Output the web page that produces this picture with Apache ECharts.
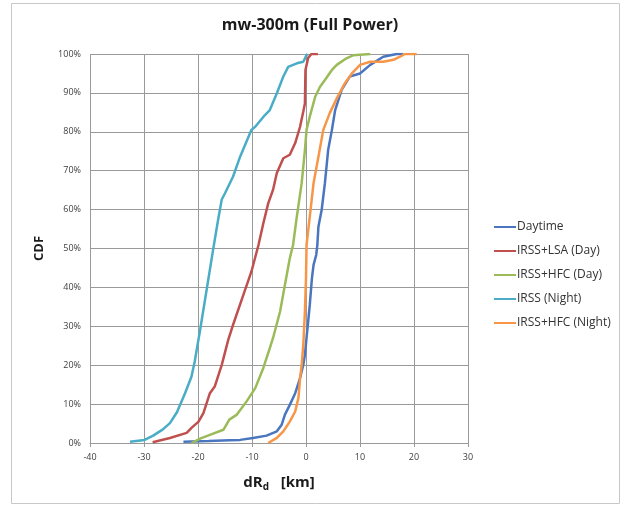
<!DOCTYPE html>
<html>
<head>
<meta charset="utf-8">
<script src="https://cdn.jsdelivr.net/npm/echarts@6/dist/echarts.min.js"></script>
<style>
  html, body { margin: 0; padding: 0; background: #ffffff; }
  #chart { width: 629px; height: 506px; }
</style>
</head>
<body>
<div id="chart"></div>
<script>
// Empirical CDF curves: [dRd in km, cumulative percent]
const seriesNames = ['Daytime', 'IRSS+LSA (Day)', 'IRSS+HFC (Day)', 'IRSS (Night)', 'IRSS+HFC (Night)'];
const seriesColors = ['#4a76bf', '#c0504d', '#9bbb59', '#4bacc6', '#f79646'];

const daytime = [
  [-22.7, 0.3], [-18, 0.5], [-14.1, 0.7], [-12.2, 0.8], [-9.8, 1.3], [-7.3, 1.9],
  [-5.4, 3], [-4.5, 4.7], [-3.9, 7.3], [-3, 9.8], [-2, 12.8], [-1.1, 16.7],
  [-0.5, 20.1], [-0.2, 22.7], [0.1, 27], [0.4, 31.2], [0.7, 35.5], [1.1, 42.4],
  [1.4, 45.8], [1.9, 48.4], [2.1, 50.9], [2.3, 55.6], [2.9, 59.9], [3.5, 66.8],
  [4.1, 75.3], [4.8, 80.5], [5.4, 85.6], [6.6, 90.8], [8.1, 94.2], [10, 95],
  [11.9, 97.2], [14.3, 99.3], [16.8, 100], [18, 100]
];

const irssLsaDay = [
  [-28.4, 0.2], [-25.2, 1.3], [-22.1, 2.6], [-21.2, 3.9], [-19.9, 5.5], [-19, 7.7],
  [-17.8, 12.8], [-16.9, 14.5], [-15.6, 20.1], [-14.4, 26.5], [-13.5, 30.4],
  [-11.6, 38.1], [-10.1, 44.1], [-8.8, 50.9], [-7.9, 56.5], [-7, 61.6], [-6.1, 65.1],
  [-5.4, 69.4], [-4.2, 73.2], [-3, 74.1], [-2, 77.1], [-1.1, 81.3], [-0.5, 85.2],
  [-0.2, 87.3], [-0.1, 95.9], [0.4, 99], [1, 100], [2.2, 100]
];

const irssHfcDay = [
  [-21.2, 0], [-19.5, 1.2], [-17.8, 2.1], [-15.3, 3.4], [-14.2, 6], [-12.8, 7.3],
  [-11, 10.7], [-9.4, 14.1], [-7.9, 19.3], [-6.7, 24.4], [-6.1, 27], [-4.8, 33.8],
  [-3.9, 40.7], [-3, 47.5], [-2.4, 50.9], [-1.7, 58.2], [-0.8, 66.8], [-0.2, 75.3],
  [0.1, 80.5], [0.7, 83.9], [1.7, 89], [2.6, 91.6], [3.5, 93.3], [4.8, 95.9],
  [5.7, 97.2], [7.5, 98.9], [8.8, 99.7], [11.9, 100]
];

const irssNight = [
  [-32.6, 0.3], [-29.9, 0.8], [-28.3, 1.9], [-26.5, 3.5], [-25.2, 5.1], [-23.9, 7.9],
  [-22.4, 12.8], [-21.2, 17.1], [-20.6, 21], [-19.6, 29.1], [-18.4, 39.4],
  [-17.2, 49.7], [-16.3, 57.2], [-15.6, 62.6], [-15, 64.2], [-13.5, 68.5], [-12.2, 73.6],
  [-10.1, 80.5], [-9.4, 81.3], [-7.6, 84.3], [-6.7, 85.6], [-5.4, 89.9], [-4.2, 94.2],
  [-3.3, 96.7], [-1.7, 97.6], [-0.5, 98], [0.1, 99.7], [0.3, 100]
];

const irssHfcNight = [
  [-7, 0], [-5.4, 1.3], [-4.2, 3], [-3, 5.5], [-2, 8.1], [-1.4, 11.6], [-1.1, 16.7],
  [-0.8, 20.1], [-0.5, 25.2], [-0.2, 33.8], [0, 42.4], [0.1, 50.9], [0.7, 58.2],
  [1.4, 66.8], [2.3, 73.6], [3.2, 80.5], [4.4, 84.8], [5.7, 88.6], [7.2, 92.5],
  [8.5, 95], [10, 97.2], [11.9, 98], [14.3, 98], [16.2, 98.5], [17.4, 99.3],
  [18.3, 100], [20.5, 100]
];

const seriesData = [daytime, irssLsaDay, irssHfcDay, irssNight, irssHfcNight];

const xMin = -40, xMax = 30, xStep = 10;
const yMin = 0, yMax = 100, yStep = 10;

const font = '"Open Sans", "Liberation Sans", sans-serif';
const gridColor = '#9a9a9a';

const chart = echarts.init(document.getElementById('chart'), null, { renderer: 'canvas' });

chart.setOption({
  animation: false,
  backgroundColor: '#ffffff',
  textStyle: { fontFamily: font },
  graphic: [{
    type: 'rect',
    shape: { x: 11.5, y: 3.5, width: 608, height: 500 },
    style: { fill: 'none', stroke: '#c8c8c8', lineWidth: 1 },
    silent: true
  }],
  title: {
    text: 'mw-300m (Full Power)',
    left: 305,
    textAlign: 'center',
    top: 12,
    textStyle: { fontFamily: font, fontSize: 16, fontWeight: 'bold', color: '#1a1a1a' }
  },
  grid: { left: 90, right: 161, top: 54, bottom: 63, containLabel: false },
  legend: {
    orient: 'vertical',
    left: 488,
    top: 216,
    itemWidth: 22,
    itemHeight: 14,
    itemGap: 12,
    itemStyle: { opacity: 0 },
    textStyle: { fontFamily: font, fontSize: 12, color: '#333333', padding: [0, 0, 0, -4] },
    data: seriesNames
  },
  xAxis: {
    type: 'value',
    min: xMin, max: xMax, interval: xStep,
    name: '{m|dR}{s|d}{m|   [km]}',
    nameLocation: 'middle',
    nameGap: 31,
    nameTextStyle: {
      rich: {
        m: { fontFamily: font, fontSize: 15, fontWeight: 'bold', color: '#1a1a1a' },
        s: { fontFamily: font, fontSize: 10, fontWeight: 'bold', color: '#1a1a1a', padding: [8, 0, 0, 0] }
      }
    },
    axisLine: { show: true, onZero: false, lineStyle: { color: gridColor, width: 1 } },
    axisTick: { show: true, length: 4, lineStyle: { color: gridColor } },
    axisLabel: { fontFamily: font, fontSize: 9, color: '#404040', margin: 10 },
    splitLine: { show: true, lineStyle: { color: gridColor, width: 1 } }
  },
  yAxis: {
    type: 'value',
    min: yMin, max: yMax, interval: yStep,
    name: 'CDF',
    nameLocation: 'middle',
    nameGap: 44,
    nameRotate: 90,
    nameTextStyle: { fontFamily: font, fontSize: 13, fontWeight: 'bold', color: '#1a1a1a' },
    axisLine: { show: true, lineStyle: { color: gridColor, width: 1 } },
    axisTick: { show: true, length: 4, lineStyle: { color: gridColor } },
    axisLabel: { fontFamily: font, fontSize: 9, color: '#404040', margin: 9, formatter: '{value}%' },
    splitLine: { show: true, lineStyle: { color: gridColor, width: 1 } }
  },
  series: seriesNames.map((name, i) => ({
    name: name,
    type: 'line',
    data: seriesData[i],
    showSymbol: false,
    symbol: 'none',
    color: seriesColors[i],
    lineStyle: { width: 2.5, color: seriesColors[i] },
    z: 3
  }))
});
</script>
</body>
</html>
